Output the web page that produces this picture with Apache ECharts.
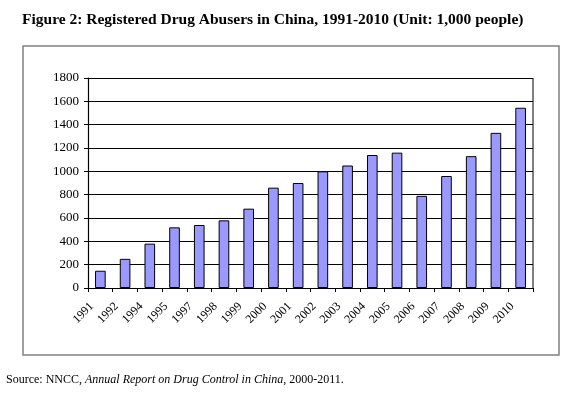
<!DOCTYPE html>
<html>
<head>
<meta charset="utf-8">
<script src="https://cdn.jsdelivr.net/npm/echarts@6/dist/echarts.min.js"></script>
<style>
  html, body { margin: 0; padding: 0; background: #fff; }
  #chart { width: 578px; height: 399px; }
</style>
</head>
<body>
<div id="chart"></div>
<script>
// 年份 (1993, 1996 无数据)
var years = ['1991', '1992', '1994', '1995', '1997', '1998', '1999', '2000', '2001',
             '2002', '2003', '2004', '2005', '2006', '2007', '2008', '2009', '2010'];
// 登记吸毒人数 (千人)
var abusers = [148, 250, 380, 520, 540, 580, 680, 860, 900,
               1000, 1050, 1140, 1160, 790, 960, 1130, 1330, 1545];
var yTicks = [0, 200, 400, 600, 800, 1000, 1200, 1400, 1600, 1800];

var serif = '"Liberation Serif", "DejaVu Serif", serif';

var option = {
    backgroundColor: '#fff',
    animation: false,
    title: {
        text: 'Figure 2: Registered Drug Abusers in China, 1991-2010 (Unit: 1,000 people)',
        left: 17,
        top: 7,
        textStyle: {
            fontFamily: serif,
            fontWeight: 'bold',
            fontSize: 15.5,
            color: '#000'
        }
    },
    graphic: [
        {
            type: 'rect',
            shape: { x: 23, y: 46, width: 536, height: 309 },
            style: { fill: 'none', stroke: '#808080', lineWidth: 1.5 },
            z: -1
        },
        {
            type: 'text',
            left: 6,
            top: 374,
            style: {
                text: '{n|Source: NNCC, }{i|Annual Report on Drug Control in China}{n|, 2000-2011.}',
                rich: {
                    n: { fontFamily: serif, fontSize: 12, fill: '#000' },
                    i: { fontFamily: serif, fontSize: 12, fontStyle: 'italic', fill: '#000' }
                }
            }
        },
        // 右侧边框线
        {
            type: 'line',
            shape: { x1: 533, y1: 78, x2: 533, y2: 288 },
            style: { stroke: '#000', lineWidth: 1 }
        }
    ],
    grid: {
        left: 88,
        right: 45,
        top: 78,
        bottom: 111
    },
    xAxis: {
        type: 'category',
        data: years,
        boundaryGap: true,
        axisLine: { show: true, lineStyle: { color: '#000', width: 1.2 } },
        axisTick: { show: true, length: 4, inside: false, lineStyle: { color: '#000' } },
        axisLabel: {
            interval: 0,
            rotate: 45,
            margin: 8,
            padding: [0, 12, 0, 0],
            fontFamily: serif,
            fontSize: 12,
            color: '#000'
        }
    },
    yAxis: {
        type: 'value',
        min: 0,
        max: 1800,
        interval: 200,
        axisLine: { show: true, lineStyle: { color: '#000', width: 1.2 } },
        axisTick: { show: true, length: 4, lineStyle: { color: '#000' } },
        axisLabel: {
            margin: 9,
            fontFamily: serif,
            fontSize: 13,
            color: '#000',
            formatter: function (v) { return String(v); }
        },
        splitLine: { show: true, lineStyle: { color: '#000', width: 1 } }
    },
    series: [
        {
            name: 'Registered Drug Abusers',
            type: 'bar',
            data: abusers,
            barWidth: '43%',
            itemStyle: {
                color: '#9999ff',
                borderColor: '#000',
                borderWidth: 1
            }
        }
    ]
};

var chart = echarts.init(document.getElementById('chart'));
chart.setOption(option);
</script>
</body>
</html>
